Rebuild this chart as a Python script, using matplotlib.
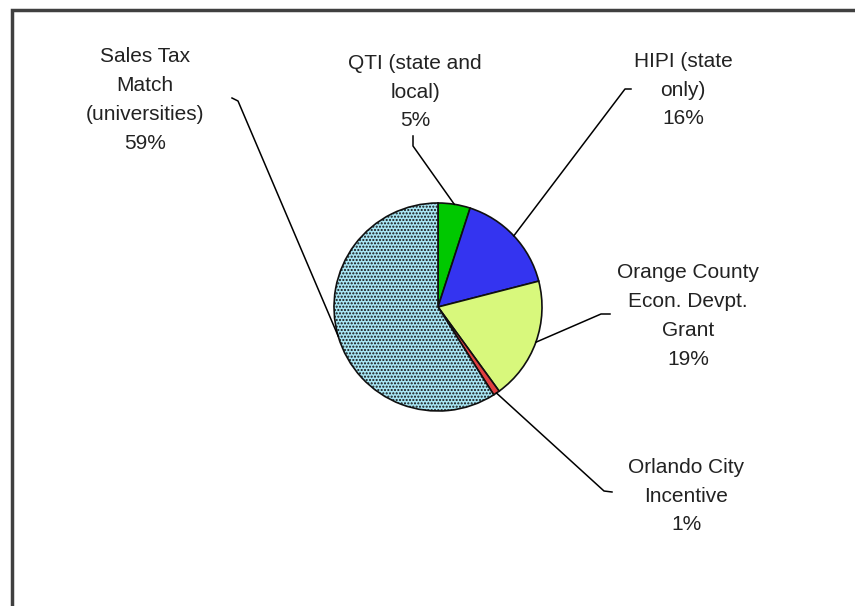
import numpy as np
import matplotlib
matplotlib.use("Agg")
import matplotlib.pyplot as plt
from matplotlib.patches import Rectangle

plt.rcParams['font.family'] = ['Liberation Sans', 'DejaVu Sans']
plt.rcParams['hatch.linewidth'] = 1.0

# incentive shares, clockwise from 12 o'clock
labels = ['QTI (state and\nlocal)', 'HIPI (state\nonly)', 'Orange County\nEcon. Devpt.\nGrant',
          'Orlando City\nIncentive', 'Sales Tax\nMatch\n(universities)']
shares = [5, 16, 19, 1, 59]
colors = ['#00c800', '#3434f0', '#d8f87c', '#e04040', '#a8e6f4']
hatches = [None, None, None, None, '.....']

# label text centres (pixels, from top-left) and the elbow of each leader line
label_pos = [(415, 92), (683, 90), (688, 316), (686, 496), (145, 100)]
elbow = [[(413, 146), (413, 136)], [(625, 89), (631, 89)], [(601, 314), (610, 314)],
         [(604, 491), (612, 492)], [(238, 101), (232, 98)]]

W, H = 855, 606
fig = plt.figure(figsize=(W / 100, H / 100), dpi=100)
ax = fig.add_axes([0, 0, 1, 1])

cx, cy, r = 438, H - 307, 104
wedges, _ = ax.pie(shares, colors=colors, startangle=90, counterclock=False,
                   center=(cx, cy), radius=r, frame=True,
                   wedgeprops=dict(edgecolor='#101010', linewidth=1.2))
for w, h in zip(wedges, hatches):
    if h:
        w.set_hatch(h)
ax.set_xlim(0, W)
ax.set_ylim(0, H)
ax.set_aspect('equal')
ax.axis('off')

# outer chart border
ax.add_patch(Rectangle((12, -20), W + 20, H - 10 + 20, fill=False,
                       edgecolor='#404040', linewidth=2.5))

total = sum(shares)
cum = np.cumsum([0] + shares)
for i, w in enumerate(wedges):
    mid = np.deg2rad(90 - 360 * (cum[i] + shares[i] / 2) / total)
    px, py = cx + r * np.cos(mid), cy + r * np.sin(mid)
    (ex, ey), (tx, ty) = elbow[i]
    ax.plot([px, ex, tx], [py, H - ey, H - ty], color='black', lw=1.1)
    lx, ly = label_pos[i]
    ax.text(lx, H - ly, f"{labels[i]}\n{shares[i]}%", ha='center', va='center',
            fontsize=15, linespacing=1.65, color='#222222')

fig.savefig('out.png', dpi=100)
